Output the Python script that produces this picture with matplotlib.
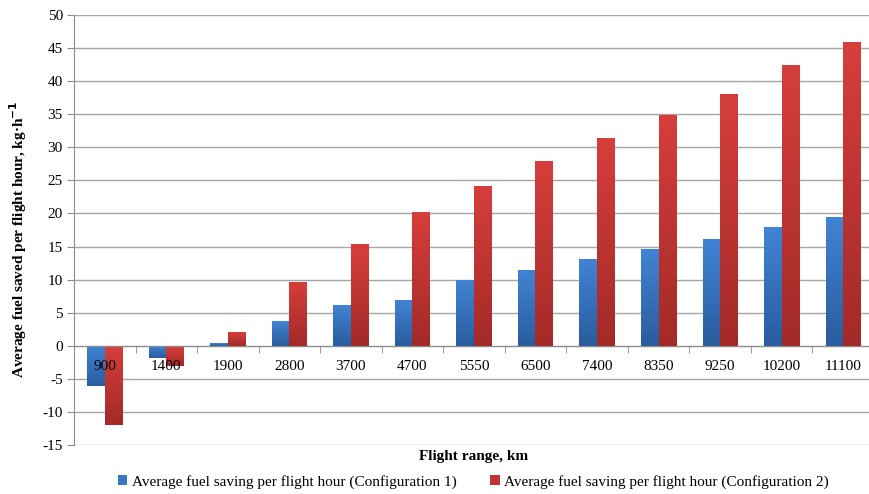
import numpy as np
import matplotlib
matplotlib.use("Agg")
import matplotlib.pyplot as plt
from matplotlib.patches import Patch
from matplotlib.colors import LinearSegmentedColormap

ranges = ["900", "1400", "1900", "2800", "3700", "4700", "5550",
          "6500", "7400", "8350", "9250", "10200", "11100"]
config1 = [-6.1, -1.9, 0.35, 3.7, 6.2, 6.85, 9.95, 11.45, 13.1, 14.65, 16.2, 17.9, 19.45]
config2 = [-12.0, -3.0, 2.1, 9.7, 15.4, 20.15, 24.1, 28.0, 31.4, 34.95, 38.0, 42.5, 45.85]
labels = ["Average fuel saving per flight hour (Configuration 1)",
          "Average fuel saving per flight hour (Configuration 2)"]

plt.rcParams["font.family"] = ["Liberation Serif", "DejaVu Serif"]
plt.rcParams["axes.unicode_minus"] = False

fig = plt.figure(figsize=(8.69, 4.94), dpi=100)
ax = fig.add_axes([74 / 869, 49 / 494, 1 - 74 / 869, 430 / 494])

x = np.arange(len(ranges))
w = 0.285
grads = [("#4184d4", "#2a5c9e"), ("#d63e3b", "#a32a28")]

bars1 = ax.bar(x - w / 2, config1, w, color="none", zorder=3)
bars2 = ax.bar(x + w / 2, config2, w, color="none", zorder=3)

# gradient fill, lighter at the top of each bar
grad = np.linspace(0, 1, 100).reshape(-1, 1)
for bars, (top, bot) in zip([bars1, bars2], grads):
    cmap = LinearSegmentedColormap.from_list("g", [top, bot])
    for b in bars:
        x0, y0 = b.get_x(), b.get_y()
        x1, y1 = x0 + b.get_width(), y0 + b.get_height()
        lo, hi = min(y0, y1), max(y0, y1)
        im = ax.imshow(grad, cmap=cmap, aspect="auto", extent=[x0, x1, lo, hi],
                       origin="upper", zorder=3)
        im.set_clip_path(b)

ax.set_xlim(-0.5, 12.42)
ax.set_ylim(-15, 50)
ax.set_yticks(np.arange(-15, 51, 5))
ax.yaxis.grid(True, color="#a6a6a6", linewidth=1)
ax.set_axisbelow(True)
ax.xaxis.set_zorder(5)

for s in ["top", "right"]:
    ax.spines[s].set_visible(False)
ax.spines["left"].set_color("#8c8c8c")
ax.spines["bottom"].set_position(("data", 0))
ax.spines["bottom"].set_color("#8c8c8c")
ax.spines["bottom"].set_zorder(4)

ax.set_xticks(x)
ax.set_xticklabels(ranges, fontsize=11)
ax.set_xticks(x[:-1] + 0.5, minor=True)
ax.tick_params(axis="x", which="major", length=0, pad=10)
ax.tick_params(axis="x", which="minor", length=5, color="#8c8c8c", direction="out")
ax.tick_params(axis="y", length=5, color="#8c8c8c", labelsize=11, pad=3)

fig.text(0.021, 0.515, "Average fuel saved per flight hour, kg·h$^{\\mathbf{-1}}$",
         rotation=90, ha="center", va="center", fontsize=11, fontweight="bold")
fig.text(0.545, 0.075, "Flight range, km", ha="center", va="center",
         fontsize=11, fontweight="bold")

handles = [Patch(facecolor="#3a76c4"), Patch(facecolor="#c03634")]
fig.legend(handles, labels, loc="center", bbox_to_anchor=(0.545, 0.025), ncol=2,
           frameon=False, fontsize=11, handlelength=0.6, handleheight=0.6,
           handletextpad=0.3, columnspacing=2.2)

fig.savefig("out.png", dpi=100)
